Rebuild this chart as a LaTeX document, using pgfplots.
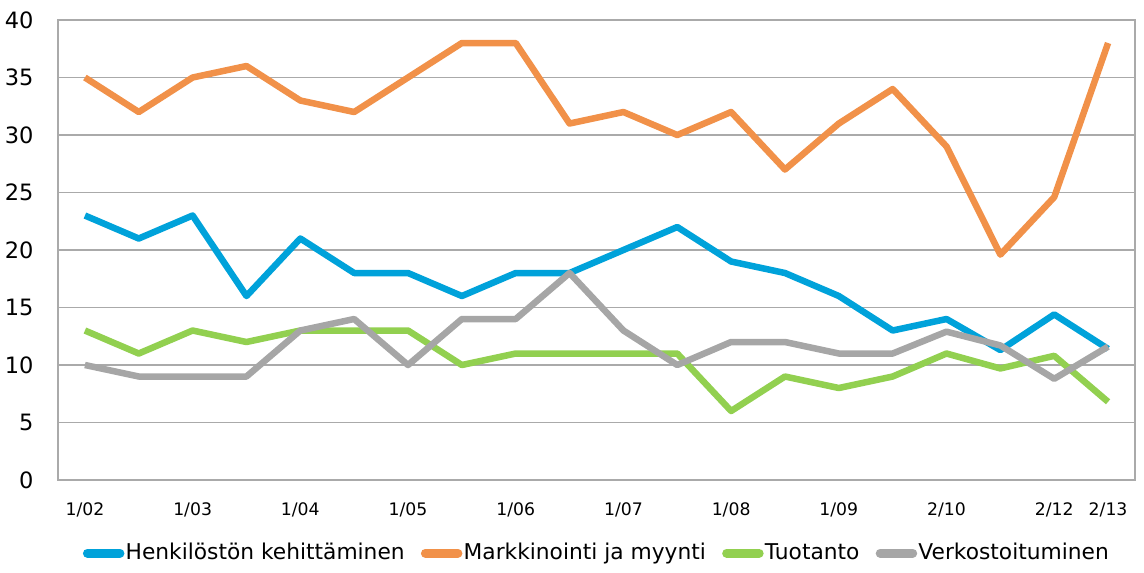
\documentclass[border=0pt]{standalone}
\usepackage{fontspec}
\setmainfont{DejaVu Sans}
\usepackage{pgfplots}
\pgfplotsset{compat=1.18}

\definecolor{cblue}{RGB}{0,162,218}
\definecolor{corange}{RGB}{241,145,73}
\definecolor{cgreen}{RGB}{146,208,80}
\definecolor{cgray}{RGB}{166,166,166}
\definecolor{gridc}{RGB}{170,170,170}

% 1 px of the reference = 0.4pt
\begin{document}
\begin{tikzpicture}
\begin{axis}[
  scale only axis,
  width=430.8pt, height=184pt,
  xmin=-0.5, xmax=19.5,
  ymin=0, ymax=40,
  ytick={0,5,...,40},
  xtick={0,2,4,6,8,10,12,14,16,18,19},
  xticklabels={1/02,1/03,1/04,1/05,1/06,1/07,1/08,1/09,2/10,2/12,2/13},
  major tick length=0pt,
  axis line style={gridc, line width=0.6pt},
  ymajorgrids, grid style={gridc, line width=0.6pt},
  /pgf/number format/assume math mode=true,
  y tick label style={font=\fontsize{9}{11}\selectfont, inner sep=0pt,
    anchor=east, xshift=-9.6pt},
  x tick label style={font=\fontsize{6.9}{9}\selectfont, inner sep=0pt,
    anchor=north, yshift=-8.8pt},
  legend columns=4,
  legend style={at={(0.5,-0.159)}, anchor=center, draw=none,
    font=\fontsize{8.7}{10}\selectfont, inner sep=0pt,
    /tikz/every even column/.append style={column sep=6pt},
    nodes={inner sep=0.5pt, text height=0.72em, text depth=0.2em}},
  legend image code/.code={
    \draw[#1, line width=3.6pt, line cap=round] (0pt,0pt) -- (13pt,0pt);
  },
  every axis plot/.append style={line width=2.6pt, line join=round},
]
\addplot[cblue] coordinates {
  (0,23)(1,21)(2,23)(3,16)(4,21)(5,18)(6,18)(7,16)(8,18)(9,18)
  (10,20)(11,22)(12,19)(13,18)(14,16)(15,13)(16,14)(17,11.3)(18,14.4)(19,11.4)};
\addlegendentry{Henkilöstön kehittäminen}
\addplot[corange] coordinates {
  (0,35)(1,32)(2,35)(3,36)(4,33)(5,32)(6,35)(7,38)(8,38)(9,31)
  (10,32)(11,30)(12,32)(13,27)(14,31)(15,34)(16,29)(17,19.6)(18,24.6)(19,38)};
\addlegendentry{Markkinointi ja myynti}
\addplot[cgreen] coordinates {
  (0,13)(1,11)(2,13)(3,12)(4,13)(5,13)(6,13)(7,10)(8,11)(9,11)
  (10,11)(11,11)(12,6)(13,9)(14,8)(15,9)(16,11)(17,9.7)(18,10.8)(19,6.8)};
\addlegendentry{Tuotanto}
\addplot[cgray] coordinates {
  (0,10)(1,9)(2,9)(3,9)(4,13)(5,14)(6,10)(7,14)(8,14)(9,18)
  (10,13)(11,10)(12,12)(13,12)(14,11)(15,11)(16,12.9)(17,11.7)(18,8.8)(19,11.6)};
\addlegendentry{Verkostoituminen}
\end{axis}
\pgfresetboundingbox
\useasboundingbox (-23.2pt,-36.8pt) rectangle (434.4pt,192pt);
\end{tikzpicture}
\end{document}
